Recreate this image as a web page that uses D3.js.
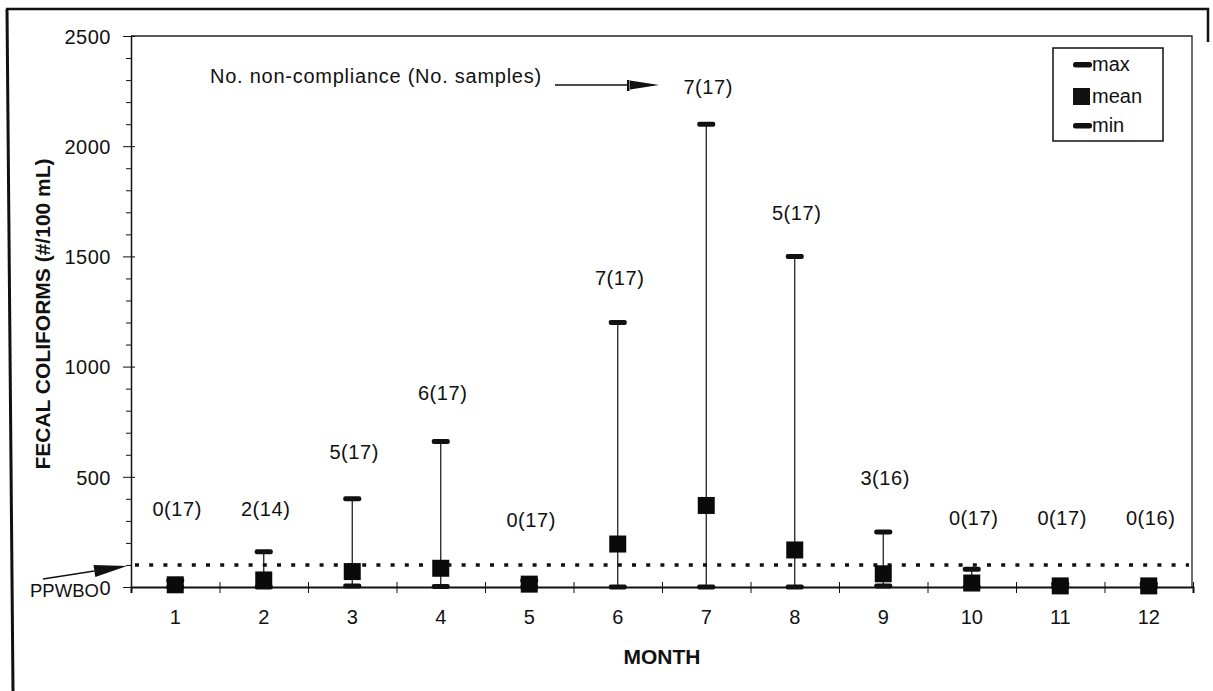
<!DOCTYPE html>
<html>
<head>
<meta charset="utf-8">
<script src="https://cdn.jsdelivr.net/npm/d3@7/dist/d3.min.js"></script>
<style>
  html, body { margin: 0; padding: 0; background: #fff; }
  svg { display: block; font-family: "Liberation Sans", Arial, Helvetica, sans-serif; }
  .axis path, .axis line { stroke: #111; }
  .axis text { font-size: 20px; fill: #111; }
</style>
</head>
<body>
<svg id="chart" width="1213" height="691"></svg>
<script>
// Monthly fecal coliform results
const months = ["1","2","3","4","5","6","7","8","9","10","11","12"];
const maxValues  = [30, 160, 400, 660, 30, 1200, 2100, 1500, 250, 80, 15, 15];
const meanValues = [10, 32, 70, 85, 13, 195, 370, 168, 60, 18, 5, 5];
const minValues  = [0, 0, 5, 2, 0, 0, 0, 0, 5, 0, 0, 0];
// non-compliance count (number of samples) and the level where each note sits
const complianceLabels = ["0(17)","2(14)","5(17)","6(17)","0(17)","7(17)","7(17)","5(17)","3(16)","0(17)","0(17)","0(16)"];
const labelLevels = [354, 354, 612, 880, 304, 1402, 2269, 1697, 495, 313, 313, 313];
const standardLevel = 100;          // PPWBO limit
const yMajorTicks = [0, 500, 1000, 1500, 2000, 2500];
const legendItems = ["max", "mean", "min"];

const svg = d3.select("#chart");
const plotLeft = 131, plotRight = 1193, plotTop = 36, plotBottom = 587;

const x = d3.scaleBand().domain(months).range([plotLeft, plotRight]).padding(0);
const xEdge = d3.scaleLinear().domain([0, months.length]).range([plotLeft, plotRight]);
const y = d3.scaleLinear().domain([0, 2500]).range([plotBottom, plotTop]);

// outer page frame
svg.append("path").attr("d", "M6,9 L1208,9 L1208,42").attr("fill", "none")
  .attr("stroke", "#111").attr("stroke-width", 2.5);
svg.append("line").attr("x1", 7).attr("y1", 9).attr("x2", 13).attr("y2", 691)
  .attr("stroke", "#111").attr("stroke-width", 3);

// plot area border (top and right)
svg.append("path")
  .attr("d", `M${plotLeft},${plotTop} L${plotRight - 1},${plotTop} L${plotRight - 1},${plotBottom}`)
  .attr("fill", "none").attr("stroke", "#222").attr("stroke-width", 1.3);

// y axis: minor ticks every 100
const minor = d3.range(100, 2500, 100).filter(v => v % 500 !== 0);
svg.append("g").attr("class", "axis").attr("transform", `translate(${plotLeft},0)`)
  .call(d3.axisLeft(y).tickValues(minor).tickSize(5).tickFormat(""))
  .call(g => g.select(".domain").remove());

const yAxis = svg.append("g").attr("class", "axis").attr("transform", `translate(${plotLeft},0)`)
  .call(d3.axisLeft(y).tickValues(yMajorTicks).tickFormat(d3.format("d"))
    .tickSize(8).tickPadding(12).tickSizeOuter(0));
yAxis.selectAll(".tick line").attr("x2", -8).attr("x1", 4);
yAxis.select(".domain").attr("stroke-width", 1.5);
yAxis.selectAll(".tick text").attr("dy", "0.36em").attr("letter-spacing", "0.5px");

// x axis: boundary ticks
const xTicks = svg.append("g").attr("class", "axis").attr("transform", `translate(0,${plotBottom})`)
  .call(d3.axisBottom(xEdge).tickValues(d3.range(0, months.length + 1)).tickSize(6).tickFormat(""));
xTicks.selectAll(".tick line").attr("y1", -5);
xTicks.select(".domain").attr("stroke-width", 2);

// x axis: month labels
svg.append("g").attr("class", "axis").attr("transform", `translate(0,${plotBottom})`)
  .call(d3.axisBottom(x).tickSize(0).tickPadding(23))
  .call(g => g.select(".domain").remove());

// axis titles
svg.append("text").attr("x", (plotLeft + plotRight) / 2).attr("y", 664)
  .attr("text-anchor", "middle").attr("font-size", 21).attr("font-weight", "bold")
  .attr("fill", "#111").text("MONTH");
svg.append("text").attr("transform", "translate(50,314) rotate(-90)")
  .attr("text-anchor", "middle").attr("font-size", 21).attr("font-weight", "bold")
  .attr("fill", "#111").text("FECAL COLIFORMS (#/100 mL)");

// PPWBO standard line
svg.append("line")
  .attr("x1", plotLeft + 4).attr("x2", plotRight - 4)
  .attr("y1", y(standardLevel)).attr("y2", y(standardLevel))
  .attr("stroke", "#111").attr("stroke-width", 3.5)
  .attr("stroke-dasharray", "4 10.2");

svg.append("text").attr("x", 30).attr("y", 597).attr("font-size", 18.5)
  .attr("fill", "#111").text("PPWBO");

// arrow pointing at the standard line
function arrow(x1, y1, x2, y2, headLen, headHalf) {
  const ang = Math.atan2(y2 - y1, x2 - x1);
  const bx = x2 - headLen * Math.cos(ang), by = y2 - headLen * Math.sin(ang);
  const px = -Math.sin(ang) * headHalf, py = Math.cos(ang) * headHalf;
  svg.append("line").attr("x1", x1).attr("y1", y1).attr("x2", bx).attr("y2", by)
    .attr("stroke", "#111").attr("stroke-width", 1.5);
  svg.append("path")
    .attr("d", `M${x2},${y2} L${bx + px},${by + py} L${bx - px},${by - py} Z`)
    .attr("fill", "#111");
}
arrow(43, 579, 127, 566, 33, 6);

// note explaining the labels
svg.append("text").attr("x", 210).attr("y", 83).attr("font-size", 20)
  .attr("letter-spacing", "0.75px").attr("fill", "#111")
  .text("No. non-compliance (No. samples)");
svg.append("line").attr("x1", 555).attr("x2", 628).attr("y1", 85).attr("y2", 85)
  .attr("stroke", "#111").attr("stroke-width", 1.3);
svg.append("rect").attr("x", 627).attr("y", 80).attr("width", 2.5).attr("height", 11).attr("fill", "#111");
svg.append("path").attr("d", "M630,80.5 L659,85 L630,89.5 Z").attr("fill", "#111");

// whiskers from min to max
const idx = d3.range(months.length);
const cx = i => x(months[i]) + x.bandwidth() / 2;

svg.append("g").selectAll("line").data(idx).join("line")
  .attr("x1", cx).attr("x2", cx)
  .attr("y1", i => y(minValues[i])).attr("y2", i => y(maxValues[i]))
  .attr("stroke", "#111").attr("stroke-width", 1.2);

// max and min dashes
const dashW = 18, dashH = 5;
[maxValues, minValues].forEach(vals => {
  svg.append("g").selectAll("rect").data(idx).join("rect")
    .attr("x", i => cx(i) - dashW / 2).attr("y", i => y(vals[i]) - dashH / 2)
    .attr("width", dashW).attr("height", dashH).attr("rx", 2)
    .attr("fill", "#111");
});

// mean squares
const sq = 17;
svg.append("g").selectAll("rect").data(idx).join("rect")
  .attr("x", i => cx(i) - sq / 2).attr("y", i => y(meanValues[i]) - sq / 2)
  .attr("width", sq).attr("height", sq).attr("fill", "#0a0a0a");

// non-compliance labels
svg.append("g").selectAll("text").data(idx).join("text")
  .attr("x", i => cx(i) + 2).attr("y", i => y(labelLevels[i]))
  .attr("dy", "0.36em").attr("text-anchor", "middle")
  .attr("font-size", 20).attr("letter-spacing", "0.6px").attr("fill", "#111")
  .text(i => complianceLabels[i]);

// legend
const lg = svg.append("g").attr("transform", "translate(1053,48)");
lg.append("rect").attr("width", 110).attr("height", 93)
  .attr("fill", "#fff").attr("stroke", "#111").attr("stroke-width", 1.5);
const rowY = [17, 49, 78];
legendItems.forEach((name, k) => {
  if (name === "mean") {
    lg.append("rect").attr("x", 20).attr("y", rowY[k] - 9).attr("width", 17).attr("height", 17).attr("fill", "#111");
  } else {
    lg.append("rect").attr("x", 20).attr("y", rowY[k] - 3).attr("width", 19).attr("height", 5.5)
      .attr("rx", 2.5).attr("fill", "#111");
  }
  lg.append("text").attr("x", 39).attr("y", rowY[k] + 6).attr("font-size", 20)
    .attr("fill", "#111").text(name);
});
</script>
</body>
</html>
